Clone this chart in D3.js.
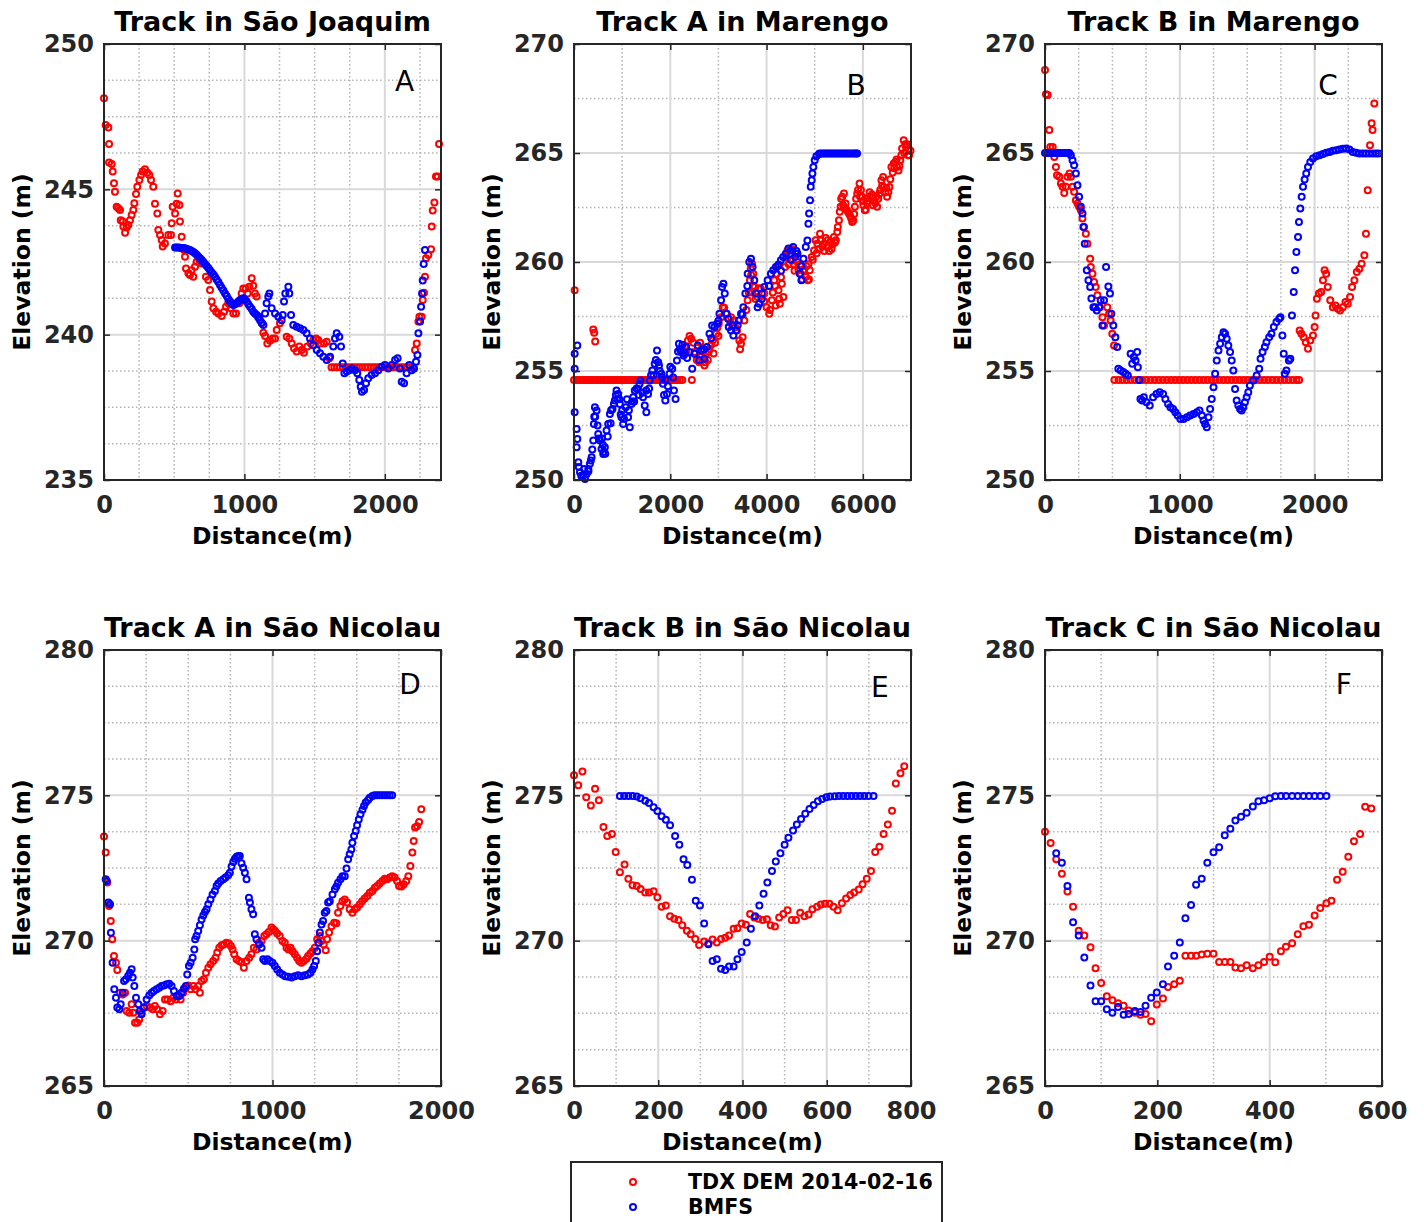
<!DOCTYPE html>
<html>
<head>
<meta charset="utf-8">
<script src="https://d3js.org/d3.v7.min.js"></script>
<style>
body { margin: 0; background: #fff; }
text { font-family: "DejaVu Sans", sans-serif; }
</style>
</head>
<body>
<div id="chart"></div>
<script>
// ---------- data ----------
var titles = ["Track in São Joaquim", "Track A in Marengo", "Track B in Marengo",
              "Track A in São Nicolau", "Track B in São Nicolau", "Track C in São Nicolau"];
var letters = ["A", "B", "C", "D", "E", "F"];
var legendLabels = ["TDX DEM 2014-02-16", "BMFS"];

// axis ticks
var aXTicks = [0, 1000, 2000], aYTicks = [235, 240, 245, 250];
var bXTicks = [0, 2000, 4000, 6000], bYTicks = [250, 255, 260, 265, 270];
var cXTicks = [0, 1000, 2000], cYTicks = [250, 255, 260, 265, 270];
var dXTicks = [0, 1000, 2000], dYTicks = [265, 270, 275, 280];
var eXTicks = [0, 200, 400, 600, 800], eYTicks = [265, 270, 275, 280];
var fXTicks = [0, 200, 400, 600], fYTicks = [265, 270, 275, 280];

// panel letter positions (data units)
var letterPos = [[2140, 248.4], [5860, 267.65], [2100, 267.65], [1816, 278.5], [726, 278.4], [532, 278.5]];

// A: Sao Joaquim
var aRed = [[0,248.13],[12,247.21],[31,247.13],[36,246.56],[36,245.92],[55,245.87],[62,245.61],[71,245.21],[78,244.92],[90,244.40],[102,244.35],[114,244.29],[119,243.94],[133,243.89],[138,243.72],[150,243.51],[161,243.69],[173,243.77],[185,243.94],[197,244.12],[209,244.29],[216,244.52],[228,244.84],[237,245.09],[252,245.32],[264,245.49],[275,245.61],[292,245.69],[309,245.57],[323,245.49],[335,245.32],[351,245.09],[363,244.50],[380,244.17],[387,243.60],[399,243.43],[411,243.26],[418,243.03],[434,243.14],[458,243.43],[477,243.43],[482,243.83],[489,244.40],[506,244.17],[518,244.50],[525,244.86],[537,244.46],[541,243.89],[553,243.37],[570,242.91],[577,242.68],[584,242.28],[601,242.11],[612,242.05],[624,242.22],[636,241.99],[648,242.34],[660,242.51],[679,242.57],[696,242.45],[726,241.99],[743,241.88],[755,241.54],[767,241.14],[779,240.91],[798,240.79],[814,240.73],[838,240.64],[855,240.79],[869,240.96],[885,241.08],[902,240.91],[921,240.73],[940,240.73],[964,241.08],[980,241.42],[992,241.59],[1009,241.59],[1023,241.42],[1035,241.65],[1052,241.94],[1063,241.68],[1075,241.42],[1087,241.31],[1106,240.62],[1123,240.39],[1135,240.07],[1147,239.95],[1163,239.70],[1182,239.79],[1201,239.87],[1218,239.87],[1230,240.16],[1253,240.39],[1301,239.93],[1320,239.87],[1337,239.70],[1353,239.53],[1372,239.42],[1391,239.59],[1408,239.47],[1424,239.38],[1448,239.59],[1472,239.70],[1491,239.82],[1510,239.87],[1526,239.82],[1543,239.70],[1567,239.70],[1586,239.76],[1605,239.19],
  [2215,239.47],[2227,239.70],[2239,240.45],[2246,240.62],[2262,240.62],[2270,241.19],[2279,241.44],[2286,241.99],[2293,242.63],[2310,242.74],[2329,242.94],[2334,243.72],[2341,244.27],[2353,244.55],[2364,245.44],[2376,245.44],[2386,246.56]];
var aRedFlatX = [1620,1640,1660,1680,1700,1720,1740,1760,1780,1800,1820,1840,1860,1880,1900,1920,1940,1960,1980,2000,2020,2040,2060,2080,2100,2120,2140,2160,2180,2200];
var aRedFlatY = 238.88;
var aBlue = [[506,243.00],[518,243.00],[530,243.00],[541,242.99],[553,242.98],[565,242.98],[577,242.97],[590,242.95],[600,242.93],[612,242.91],[624,242.88],[636,242.84],[648,242.80],[660,242.75],[672,242.69],[684,242.63],[696,242.57],[708,242.50],[719,242.43],[731,242.36],[743,242.29],[755,242.22],[767,242.14],[779,242.07],[790,241.99],[802,241.90],[814,241.81],[826,241.71],[838,241.61],[850,241.52],[862,241.42],[874,241.33],[885,241.23],[897,241.14],[909,241.08],[921,241.02],[933,241.05],[945,241.08],[957,241.14],[969,241.19],[981,241.22],[992,241.25],[1004,241.20],[1016,241.14],[1028,241.05],[1040,240.96],[1052,240.88],[1063,240.79],[1075,240.73],[1087,240.68],[1099,240.59],[1111,240.50],[1123,240.41],[1135,240.33],[1147,240.73],[1158,241.08],[1170,241.31],[1178,241.42],[1194,240.91],[1218,240.73],[1242,240.62],[1265,240.50],[1273,240.68],[1282,241.14],[1291,241.42],[1313,241.65],[1320,241.42],[1332,240.68],[1348,240.33],[1372,240.27],[1396,240.22],[1420,240.16],[1443,240.05],[1467,239.87],[1491,239.64],[1515,239.47],[1538,239.36],[1562,239.24],[1586,239.13],[1610,239.24],[1633,239.59],[1645,239.87],[1657,240.05],[1676,239.93],[1688,239.59],[1700,239.01],[1712,238.67],[1729,238.73],[1747,238.78],[1764,238.84],[1788,238.78],[1804,238.67],[1818,238.44],[1828,238.21],[1837,238.04],[1852,238.10],[1866,238.33],[1882,238.50],[1906,238.61],[1930,238.67],[1954,238.78],[1978,238.90],[2001,238.96],[2025,238.84],[2049,238.96],[2073,239.13],[2091,239.19],[2108,238.84],[2120,238.38],[2137,238.33],[2155,238.67],[2174,238.96],[2191,238.78],[2208,238.84],[2222,239.07],[2232,239.30],[2239,240.05],[2251,240.45],[2258,240.96],[2265,241.42],[2270,241.86],[2277,242.43],[2286,242.91]];

// B: Track A Marengo
var bRed = [[14,258.70],[400,256.90],[420,256.75],[440,256.35],[2448,254.59],
  [2366,256.40],[2434,256.48],[2503,255.87],[2572,256.09],[2641,255.64],[2710,255.25],[2745,255.79],[2814,256.02],[2883,256.40],[2952,256.71],[3007,257.17],[3055,257.47],[3090,257.93],[3159,257.63],[3214,257.40],[3262,257.47],[3331,257.32],[3386,256.86],[3434,256.40],[3469,256.25],[3503,256.55],[3538,257.32],[3607,258.24],[3655,259.16],[3697,259.92],[3724,259.46],[3752,258.85],[3814,258.39],[3883,258.77],[3952,258.55],[4000,257.93],[4055,257.63],[4110,258.24],[4159,259.16],[4207,259.46],[4248,258.70],[4276,258.09],[4317,259.00],[4386,259.77],[4434,260.53],[4483,260.38],[4538,260.08],[4607,260.38],[4662,259.62],[4710,259.46],[4759,259.62],[4814,259.31],[4855,259.16],[4897,259.62],[4938,260.23],[4986,260.53],[5055,260.84],[5124,260.99],[5193,260.84],[5262,260.69],[5331,260.92],[5400,261.15],[5469,261.38],[5503,261.91],[5538,262.53],[5572,262.99],[5607,263.14],[5641,262.68],[5710,262.22],[5779,261.84],[5834,262.53],[5883,263.14],[5931,263.60],[5986,262.99],[6041,262.37],[6090,262.68],[6159,262.99],[6228,262.83],[6297,262.53],[6345,263.14],[6386,263.75],[6434,263.44],[6503,262.99],[6552,263.44],[6593,264.36],[6641,264.52],[6710,264.36],[6779,264.67],[6814,265.21],[6848,265.59],[6897,265.28],[6938,264.90],
  [2300,256.10],[2480,256.30],[2600,255.40],[2680,255.90],[2780,255.50],[2850,256.20],[2900,255.80],[3000,256.60],[3120,257.90],[3250,257.20],[3350,257.00],[3450,256.00],[3580,257.80],[3680,259.40],[3720,258.90],[3850,258.80],[3950,258.20],[4070,257.80],[4180,258.90],[4230,259.80],[4350,258.40],[4420,260.20],[4560,259.90],[4700,259.90],[4780,259.60],[4870,259.90],[4960,260.10],[5020,261.00],[5090,260.60],[5160,260.70],[5230,261.10],[5300,260.50],[5370,260.80],[5440,261.00],[5520,262.30],[5590,262.60],[5660,262.40],[5740,262.10],[5800,261.90],[5860,262.90],[5960,263.30],[6010,262.60],[6060,262.40],[6120,262.80],[6190,263.10],[6260,262.70],[6320,262.90],[6400,263.50],[6470,263.20],[6530,263.20],[6620,264.10],[6680,264.60],[6740,264.20],[6860,265.00],[6920,265.40],[6960,264.90],[6990,265.10],
  [2330,255.90],[2400,256.60],[2550,255.50],[2620,256.30],[2730,255.40],[2800,255.90],[2930,256.30],[2980,257.00],[3630,258.60],[3670,259.70],[3700,258.60],[3770,258.30],[4130,258.60],[4190,258.00],[4260,258.30],[4300,259.30],[4460,259.90],[4520,260.60],[4580,259.60],[4640,260.00],[4740,259.20],[4830,259.80],[4880,259.20],[5040,260.40],[5110,261.30],[5200,260.50],[5270,261.00],[5350,260.60],[5420,260.90],[5480,261.60],[5550,262.90],[5620,262.50],[5690,262.30],[5760,262.00],[5820,262.20],[5900,263.30],[5940,263.00],[6000,262.80],[6070,262.90],[6140,263.20],[6210,262.60],[6280,263.00],[6360,263.30],[6420,263.90],[6490,263.40],[6570,263.80],[6650,264.30],[6700,264.70],[6760,264.40],[6800,264.90],[6880,265.40],[6950,265.20]];
var bRedFlatX = [0,50,100,150,200,250,300,350,400,450,500,550,600,650,700,750,800,850,900,950,1000,1050,1100,1150,1200,1250,1300,1350,1400,1450,1500,1550,1600,1650,1700,1750,1800,1850,1900,1950,2000,2050,2100,2150,2200,2250];
var bRedFlatY = 254.59;
var bBlue = [[14,255.10],[14,255.79],[69,256.17],[14,253.11],[55,252.34],[69,251.88],[55,251.50],[90,250.81],[124,250.35],[193,250.20],[228,250.05],[262,250.28],[297,250.51],[331,250.74],[366,251.04],[400,251.81],[414,252.57],[434,253.34],[469,253.19],[503,252.11],[538,251.81],[572,251.42],[607,251.19],[641,251.50],[676,252.27],[710,252.57],[745,253.03],[800,253.26],[848,253.65],[883,254.10],[917,253.95],[952,253.49],[986,252.88],[1021,252.57],[1076,253.34],[1124,252.88],[1159,252.42],[1193,253.49],[1228,253.80],[1262,254.10],[1331,254.18],[1379,254.56],[1434,253.80],[1469,253.42],[1503,253.11],[1538,253.95],[1572,254.56],[1628,255.02],[1676,255.33],[1724,255.94],[1766,255.25],[1814,254.87],[1848,254.41],[1897,253.65],[1931,253.95],[1986,254.87],[2041,255.10],[2076,254.10],[2110,253.72],[2138,255.48],[2179,256.25],[2228,255.87],[2276,255.71],[2331,256.10],[2400,255.87],[2455,255.10],[2503,255.79],[2572,256.17],[2641,255.94],[2710,255.56],[2759,256.10],[2814,256.71],[2869,257.09],[2917,257.02],[2972,257.17],[3021,257.63],[3055,258.24],[3076,258.85],[3103,259.00],[3131,258.55],[3172,257.63],[3214,257.02],[3262,256.86],[3310,256.63],[3366,256.86],[3421,257.32],[3469,257.63],[3517,257.93],[3559,258.55],[3607,259.46],[3641,260.00],[3676,260.15],[3710,259.77],[3745,259.16],[3779,258.55],[3814,257.93],[3848,258.09],[3903,258.55],[3952,258.85],[4021,259.16],[4090,259.46],[4138,259.62],[4193,259.77],[4248,259.89],[4297,260.08],[4345,260.23],[4400,260.38],[4455,260.62],[4503,260.53],[4552,260.69],[4593,260.23],[4641,260.38],[4690,259.46],[4724,259.16],[4766,260.15],[4814,260.69],[4848,260.99],[4869,261.76],[4883,262.22],[4903,262.83],[4917,263.45],[4938,263.75],[4952,264.06],[4972,264.36],[5000,264.67],[5034,264.85],[5090,264.95],
  [300,250.40],[350,250.90],[440,252.90],[580,251.90],[650,251.20],[760,252.60],[900,253.70],[1000,253.20],[1100,253.70],[1250,253.60],[1350,253.90],[1500,254.10],[1650,254.80],[1750,255.40],[1900,254.60],[2000,255.20],[2160,255.90],[2250,256.20],[2350,255.60],[2600,255.50],[2700,256.00],[2850,256.50],[3000,257.30],[3200,257.40],[3300,257.10],[3400,257.10],[3500,257.60],[3600,258.90],[3900,258.30],[4050,258.90],[4300,259.60],[4500,260.10],[4620,260.50],[4720,259.80],
  [100,250.60],[150,250.20],[210,250.50],[380,251.40],[420,252.90],[490,252.50],[520,251.90],[600,251.60],[620,251.30],[700,252.00],[770,253.20],[830,253.50],[870,253.90],[940,253.70],[970,253.00],[1040,252.80],[1140,253.20],[1210,253.60],[1300,254.20],[1360,254.40],[1420,254.00],[1560,254.20],[1600,254.80],[1700,255.50],[1780,255.00],[1830,254.70],[1870,253.90],[1950,254.30],[2060,254.70],[2200,256.00],[2300,255.80]];
var bBlueFlatX = [5100,5140,5180,5220,5260,5300,5340,5380,5420,5460,5500,5540,5580,5620,5660,5700,5740,5780,5820,5860,5880];
var bBlueFlatY = 264.98;

// C: Track B Marengo
var cRed = [[0,268.81],[7,267.70],[20,267.66],[32,266.05],[39,265.28],[57,265.28],[69,264.82],[81,264.36],[89,263.98],[106,263.91],[118,263.60],[130,263.45],[143,263.17],[155,263.45],[167,263.91],[182,264.06],[192,263.91],[204,263.45],[216,263.22],[229,262.83],[241,262.68],[253,262.53],[266,262.37],[278,261.99],[290,261.61],[303,261.30],[315,260.84],[335,260.15],[340,259.77],[352,259.46],[364,259.08],[376,258.85],[389,258.47],[408,257.93],[426,257.47],[438,257.09],[462,257.93],[475,257.63],[487,257.32],[499,256.71],[512,256.17],
  [1889,256.86],[1902,256.71],[1919,256.55],[1934,256.32],[1951,256.02],[1968,256.40],[1988,256.63],[2000,257.02],[2007,257.55],[2017,258.31],[2032,258.55],[2049,258.62],[2062,259.16],[2074,259.62],[2086,259.46],[2098,258.85],[2116,258.24],[2135,257.93],[2155,258.01],[2172,257.86],[2189,257.78],[2209,257.93],[2229,258.16],[2246,258.09],[2263,258.39],[2278,258.85],[2295,259.16],[2313,259.54],[2332,259.69],[2349,259.92],[2369,260.31],[2381,261.30],[2394,263.29],[2411,265.36],[2423,266.36],[2430,266.05],[2443,267.27]];
var cRedFlatX = [515,545,575,605,635,665,695,725,755,785,815,845,875,905,935,965,995,1025,1055,1085,1115,1145,1175,1205,1235,1265,1295,1325,1355,1385,1415,1445,1475,1505,1535,1565,1595,1625,1655,1685,1715,1745,1775,1805,1835,1865,1885];
var cRedFlatY = 254.59;
var cBlue = [[192,264.90],[204,264.67],[216,264.44],[229,264.06],[241,263.52],[253,262.99],[266,262.53],[278,262.22],[285,261.61],[295,260.84],[310,259.62],[322,259.16],[335,258.85],[344,258.32],[359,257.93],[371,257.93],[384,257.78],[401,257.93],[413,258.24],[426,257.09],[438,258.24],[453,259.77],[470,258.88],[482,258.55],[492,257.63],[507,257.09],[522,256.55],[536,256.10],[544,255.10],[561,255.02],[581,254.95],[598,254.87],[615,254.79],[635,255.79],[647,255.33],[659,255.64],[672,255.48],[684,255.87],[689,255.17],[699,254.59],[708,253.72],[721,253.65],[733,253.80],[753,253.57],[777,253.42],[802,253.80],[827,253.95],[851,254.03],[876,253.95],[893,253.72],[913,253.49],[930,253.34],[950,253.26],[967,253.11],[984,252.96],[1004,252.80],[1028,252.80],[1053,252.88],[1077,252.96],[1102,253.03],[1127,253.11],[1146,253.19],[1164,252.96],[1176,252.73],[1188,252.57],[1200,252.42],[1213,252.88],[1225,253.26],[1237,253.72],[1250,254.26],[1262,254.87],[1274,255.48],[1287,255.94],[1299,256.25],[1311,256.55],[1324,256.78],[1336,256.71],[1348,256.48],[1360,256.17],[1373,255.87],[1385,255.48],[1397,255.02],[1410,254.18],[1422,253.65],[1434,253.42],[1447,253.26],[1459,253.19],[1471,253.34],[1483,253.57],[1496,253.80],[1508,254.03],[1520,254.33],[1545,254.56],[1570,254.79],[1589,255.10],[1599,255.56],[1614,255.87],[1631,256.10],[1643,256.32],[1663,256.55],[1680,256.71],[1697,257.02],[1717,257.25],[1737,257.40],[1747,257.47],[1761,256.63],[1771,255.79],[1779,254.87],[1791,255.02],[1809,255.48],[1820,255.56],[1832,257.55],[1845,258.62],[1855,259.62],[1865,260.46],[1877,261.15],[1884,261.84],[1894,262.45],[1904,262.99],[1914,263.45],[1926,263.78],[1938,264.06],[1951,264.36],[1968,264.59],[1988,264.75],[2012,264.85],[2037,264.90],[2062,264.95],[2086,265.01],[2111,265.05],[2135,265.10],[2160,265.13],[2184,265.16],[2209,265.19],[2234,265.21],[2258,265.16],[2283,265.05],[2308,265.01],[2332,264.98],[2357,264.98],[2381,264.98],[2406,264.98],[2430,264.98],[2455,264.98],[2475,264.98]];
var cBlueFlatX = [0,15,30,45,60,75,90,105,120,135,150,165,180];
var cBlueFlatY = 265.0;

// D: Track A Sao Nicolau
var dRed = [[0,273.58],[10,273.03],[20,272.00],[30,271.19],[40,270.68],[49,270.05],[59,269.47],[71,269.24],[79,268.99],[95,268.21],[111,268.15],[125,268.21],[134,267.58],[150,267.52],[164,267.81],[174,267.52],[184,267.18],[198,267.18],[209,267.29],[223,267.52],[237,267.70],[253,267.75],[273,267.70],[289,267.64],[302,267.75],[316,267.64],[332,267.47],[348,267.58],[362,267.98],[377,267.98],[395,267.92],[411,268.04],[427,267.98],[441,268.10],[455,267.98],[470,268.21],[486,268.38],[500,268.46],[514,268.33],[530,268.44],[543,268.33],[559,268.44],[569,268.21],[579,268.61],[593,268.67],[605,268.90],[619,269.07],[632,269.19],[648,269.30],[662,269.41],[672,269.59],[684,269.76],[698,269.84],[711,269.87],[727,269.93],[741,269.90],[753,269.82],[763,269.70],[773,269.53],[787,269.36],[802,269.30],[816,269.26],[830,269.07],[846,269.30],[862,269.41],[875,269.53],[889,269.76],[905,269.70],[919,269.93],[935,269.99],[951,270.16],[964,270.22],[978,270.30],[994,270.45],[1004,270.39],[1014,270.34],[1028,270.25],[1043,270.16],[1059,269.99],[1073,269.93],[1083,269.76],[1095,269.70],[1107,269.76],[1119,269.64],[1132,269.53],[1146,269.41],[1158,269.30],[1172,269.24],[1186,269.30],[1202,269.38],[1211,269.47],[1225,269.56],[1237,269.64],[1251,269.76],[1265,270.05],[1281,270.16],[1291,269.99],[1304,269.87],[1316,269.67],[1324,270.05],[1336,270.28],[1350,270.50],[1366,270.62],[1379,270.60],[1389,270.96],[1403,271.19],[1415,271.36],[1429,271.42],[1443,271.31],[1458,271.08],[1474,270.96],[1488,271.08],[1502,271.14],[1518,271.25],[1532,271.36],[1547,271.45],[1563,271.54],[1577,271.65],[1593,271.71],[1607,271.82],[1621,271.88],[1636,271.97],[1652,272.05],[1666,272.13],[1680,272.11],[1696,272.17],[1711,272.22],[1725,272.17],[1739,272.05],[1751,271.88],[1765,271.86],[1779,271.94],[1794,272.05],[1806,272.22],[1818,272.57],[1830,273.03],[1838,273.43],[1846,273.89],[1858,273.94],[1870,274.08],[1883,274.52]];
var dBlue = [[10,272.11],[16,272.05],[26,271.31],[36,271.25],[41,270.27],[51,269.24],[61,268.33],[71,268.04],[79,267.70],[91,267.64],[99,267.81],[111,268.21],[119,268.61],[130,268.67],[144,268.79],[154,268.90],[164,269.02],[170,268.73],[180,268.44],[190,268.04],[204,267.81],[213,267.58],[223,267.47],[237,267.70],[253,267.98],[269,268.12],[283,268.21],[296,268.27],[312,268.33],[328,268.38],[342,268.44],[356,268.46],[372,268.50],[387,268.52],[401,268.44],[415,268.27],[431,268.10],[447,268.10],[460,268.21],[474,268.35],[486,268.44],[494,268.84],[504,269.13],[514,269.24],[526,269.41],[536,269.70],[541,270.05],[549,270.16],[559,270.33],[569,270.53],[579,270.73],[589,270.87],[599,270.99],[609,271.08],[619,271.25],[632,271.42],[644,271.59],[658,271.71],[668,271.88],[678,271.97],[692,272.05],[708,272.11],[721,272.17],[737,272.25],[747,272.34],[757,272.55],[767,272.71],[777,272.82],[787,272.89],[797,272.91],[806,272.91],[816,272.66],[826,272.51],[836,272.34],[846,272.11],[860,271.48],[866,271.31],[875,271.08],[885,270.91],[895,270.22],[905,270.05],[921,269.87],[935,269.76],[945,269.36],[955,269.30],[970,269.36],[984,269.30],[1000,269.24],[1014,269.13],[1028,269.01],[1043,268.90],[1059,268.84],[1075,268.78],[1093,268.76],[1113,268.73],[1132,268.78],[1152,268.81],[1172,268.78],[1192,268.81],[1211,268.84],[1225,268.90],[1237,269.01],[1247,269.13],[1257,269.30],[1265,269.64],[1273,269.93],[1281,270.28],[1291,270.56],[1300,270.68],[1310,270.96],[1320,271.02],[1330,271.31],[1340,271.36],[1356,271.59],[1370,271.77],[1379,271.86],[1389,271.99],[1403,272.11],[1415,272.22],[1429,272.22],[1439,272.48],[1449,272.80],[1458,272.97],[1468,273.14],[1474,273.37],[1484,273.60],[1494,273.77],[1502,273.97],[1512,274.17],[1522,274.35],[1534,274.50],[1543,274.63],[1553,274.75],[1567,274.84],[1577,274.92],[1593,274.98]];
var dBlueFlatX = [1605,1620,1635,1650,1665,1680,1695,1710];
var dBlueFlatY = 275.0;

// E: Track B Sao Nicolau
var eRed = [[0,275.69],[10,275.35],[20,275.82],[29,274.93],[40,274.65],[50,275.23],[59,274.83],[70,273.91],[79,273.60],[90,273.67],[99,273.05],[109,272.35],[120,272.62],[129,272.13],[139,271.91],[149,271.88],[158,271.78],[169,271.66],[178,271.66],[189,271.70],[198,271.49],[208,271.17],[218,271.21],[228,270.84],[238,270.75],[248,270.71],[257,270.53],[268,270.34],[277,270.22],[288,270.06],[297,269.85],[309,269.97],[319,269.91],[329,270.04],[339,269.94],[349,270.06],[359,270.10],[368,270.18],[379,270.41],[388,270.43],[398,270.59],[408,270.55],[418,270.92],[428,270.80],[438,270.75],[448,270.71],[458,270.74],[467,270.53],[477,270.49],[487,270.80],[497,270.92],[507,271.05],[517,270.71],[527,270.71],[537,270.96],[547,270.84],[557,270.90],[566,271.08],[577,271.17],[586,271.24],[596,271.27],[606,271.27],[616,271.17],[626,271.05],[636,271.29],[646,271.45],[656,271.57],[665,271.66],[676,271.76],[685,271.94],[695,272.13],[705,272.40],[715,273.05],[725,273.23],[735,273.67],[745,274.00],[755,274.47],[764,275.41],[775,275.76],[784,276.00]];
var eBlue = [[109,274.98],[119,274.98],[129,274.98],[139,274.98],[149,274.96],[158,274.90],[169,274.81],[178,274.74],[189,274.59],[198,274.46],[208,274.28],[218,274.16],[228,273.97],[240,273.60],[250,273.30],[260,272.80],[269,272.60],[280,272.10],[289,271.37],[299,271.21],[309,270.59],[319,269.88],[329,269.30],[339,269.36],[349,269.03],[359,268.99],[368,269.11],[379,269.11],[388,269.36],[398,269.61],[410,269.94],[420,270.41],[430,270.84],[440,271.21],[450,271.61],[459,272.00],[470,272.40],[479,272.72],[490,273.01],[500,273.30],[509,273.54],[520,273.79],[529,274.00],[539,274.19],[549,274.37],[559,274.53],[569,274.67],[579,274.80],[589,274.87],[599,274.93],[608,274.96],[619,274.97],[629,274.98],[639,274.98],[649,274.98],[659,274.98],[669,274.98],[679,274.98],[689,274.98],[699,274.98],[711,274.98]];

// F: Track C Sao Nicolau
var fRed = [[0,273.75],[10,273.36],[20,272.80],[30,272.30],[40,271.69],[50,271.17],[60,270.34],[70,270.18],[81,269.77],[90,269.05],[100,268.54],[110,268.09],[120,267.95],[130,267.85],[140,267.76],[149,267.60],[160,267.52],[170,267.45],[179,267.48],[189,267.23],[199,267.80],[210,268.01],[219,268.41],[230,268.50],[240,268.62],[250,269.48],[260,269.48],[269,269.48],[279,269.52],[289,269.55],[300,269.55],[310,269.27],[320,269.27],[330,269.27],[339,269.08],[349,269.05],[359,269.15],[370,269.05],[380,269.15],[390,269.27],[400,269.45],[410,269.26],[420,269.64],[429,269.79],[440,269.91],[450,270.22],[460,270.50],[470,270.55],[480,270.87],[490,271.12],[501,271.29],[510,271.37],[520,272.10],[530,272.37],[540,272.89],[550,273.42],[561,273.67],[570,274.61],[581,274.55]];
var fBlue = [[20,273.01],[30,272.68],[40,271.88],[50,270.63],[60,270.18],[70,269.42],[81,268.46],[90,267.92],[100,267.92],[110,267.64],[120,267.52],[130,267.72],[140,267.45],[149,267.48],[160,267.58],[170,267.55],[179,267.76],[189,268.04],[199,268.22],[210,268.50],[219,269.11],[230,269.48],[240,269.94],[250,270.77],[260,271.23],[269,271.92],[279,272.13],[289,272.68],[300,273.04],[310,273.21],[320,273.63],[330,273.85],[339,274.13],[349,274.26],[359,274.40],[370,274.62],[380,274.80],[390,274.83],[400,274.90],[410,274.97],[420,274.98],[429,274.98],[440,274.98],[450,274.98],[460,274.98],[470,274.98],[480,274.98],[490,274.98],[501,274.98]];

// ---------- layout ----------
var WIDTH = 1424, HEIGHT = 1222;
var W = 337, H = 436;
var LEFTS = [104, 574, 1045], TOPS = [44, 650];
var RED = "#ff0000", BLUE = "#0000ff", AXIS_COLOR = "#262626";
var MARKER_R = 3, MARKER_W = 2;

function withFlat(points, flatX, flatY) {
    return points.concat(flatX.map(function(v) { return [v, flatY]; }));
}

var panels = [
    { xDomain: [0, 2400], yDomain: [235, 250], xTicks: aXTicks, yTicks: aYTicks, xMinor: 250, yMinor: 1.25,
      red: withFlat(aRed, aRedFlatX, aRedFlatY), blue: aBlue },
    { xDomain: [0, 7000], yDomain: [250, 270], xTicks: bXTicks, yTicks: bYTicks, xMinor: 1000, yMinor: 2.5,
      red: withFlat(bRed, bRedFlatX, bRedFlatY), blue: withFlat(bBlue, bBlueFlatX, bBlueFlatY) },
    { xDomain: [0, 2500], yDomain: [250, 270], xTicks: cXTicks, yTicks: cYTicks, xMinor: 250, yMinor: 2.5,
      red: withFlat(cRed, cRedFlatX, cRedFlatY), blue: withFlat(cBlue, cBlueFlatX, cBlueFlatY) },
    { xDomain: [0, 2000], yDomain: [265, 280], xTicks: dXTicks, yTicks: dYTicks, xMinor: 250, yMinor: 1.25,
      red: dRed, blue: withFlat(dBlue, dBlueFlatX, dBlueFlatY) },
    { xDomain: [0, 800], yDomain: [265, 280], xTicks: eXTicks, yTicks: eYTicks, xMinor: 100, yMinor: 1.25,
      red: eRed, blue: eBlue },
    { xDomain: [0, 600], yDomain: [265, 280], xTicks: fXTicks, yTicks: fYTicks, xMinor: 100, yMinor: 1.25,
      red: fRed, blue: fBlue }
];

var svg = d3.select('#chart')
    .append('svg')
    .attr('width', WIDTH)
    .attr('height', HEIGHT)
    .style('background', '#fff');

function isMajor(v, ticks) {
    return ticks.some(function(t) { return Math.abs(t - v) < 1e-6; });
}

function styleAxis(sel) {
    sel.select('.domain').remove();
    sel.selectAll('.tick line').attr('stroke', AXIS_COLOR).attr('stroke-width', 1.5);
    sel.selectAll('.tick text')
        .attr('fill', AXIS_COLOR)
        .style('font-family', '"DejaVu Sans", sans-serif')
        .style('font-size', '24px')
        .style('font-weight', 'bold');
}

function drawPanel(p, i) {
    var left = LEFTS[i % 3], top = TOPS[Math.floor(i / 3)];
    var g = svg.append('g').attr('transform', 'translate(' + left + ',' + top + ')');

    var x = d3.scaleLinear().domain(p.xDomain).range([0, W]);
    var y = d3.scaleLinear().domain(p.yDomain).range([H, 0]);

    var xMinor = d3.range(p.xDomain[0] + p.xMinor, p.xDomain[1] - 1e-6, p.xMinor)
        .filter(function(v) { return !isMajor(v, p.xTicks); });
    var yMinor = d3.range(p.yDomain[0] + p.yMinor, p.yDomain[1] - 1e-6, p.yMinor)
        .filter(function(v) { return !isMajor(v, p.yTicks); });
    var xMajor = p.xTicks.filter(function(v) { return v > p.xDomain[0] && v < p.xDomain[1]; });
    var yMajor = p.yTicks.filter(function(v) { return v > p.yDomain[0] && v < p.yDomain[1]; });

    // minor grid (dotted)
    g.selectAll('.vminor').data(xMinor).enter().append('line')
        .attr('x1', function(d) { return x(d); }).attr('x2', function(d) { return x(d); })
        .attr('y1', 0).attr('y2', H)
        .attr('stroke', '#b3b3b3').attr('stroke-width', 1.5).attr('stroke-dasharray', '1.5,2.5');
    g.selectAll('.hminor').data(yMinor).enter().append('line')
        .attr('y1', function(d) { return y(d); }).attr('y2', function(d) { return y(d); })
        .attr('x1', 0).attr('x2', W)
        .attr('stroke', '#b3b3b3').attr('stroke-width', 1.5).attr('stroke-dasharray', '1.5,2.5');

    // major grid (solid, light)
    g.selectAll('.vmajor').data(xMajor).enter().append('line')
        .attr('x1', function(d) { return x(d); }).attr('x2', function(d) { return x(d); })
        .attr('y1', 0).attr('y2', H)
        .attr('stroke', '#d9d9d9').attr('stroke-width', 2);
    g.selectAll('.hmajor').data(yMajor).enter().append('line')
        .attr('y1', function(d) { return y(d); }).attr('y2', function(d) { return y(d); })
        .attr('x1', 0).attr('x2', W)
        .attr('stroke', '#d9d9d9').attr('stroke-width', 2);

    // TDX points first, BMFS on top
    g.selectAll('.red').data(p.red).enter().append('circle')
        .attr('cx', function(d) { return x(d[0]); })
        .attr('cy', function(d) { return y(d[1]); })
        .attr('r', MARKER_R)
        .attr('fill', 'none').attr('stroke', RED).attr('stroke-width', MARKER_W);
    g.selectAll('.blue').data(p.blue).enter().append('circle')
        .attr('cx', function(d) { return x(d[0]); })
        .attr('cy', function(d) { return y(d[1]); })
        .attr('r', MARKER_R)
        .attr('fill', 'none').attr('stroke', BLUE).attr('stroke-width', MARKER_W);

    // axes with inward ticks
    g.append('g').attr('transform', 'translate(0,' + H + ')')
        .call(d3.axisBottom(x).tickValues(p.xTicks).tickSizeInner(-6).tickSizeOuter(0).tickPadding(16).tickFormat(d3.format('d')))
        .call(styleAxis);
    g.append('g')
        .call(d3.axisTop(x).tickValues(p.xTicks).tickSizeInner(-6).tickSizeOuter(0).tickFormat(function() { return ''; }))
        .call(styleAxis);
    g.append('g')
        .call(d3.axisLeft(y).tickValues(p.yTicks).tickSizeInner(-6).tickSizeOuter(0).tickPadding(10).tickFormat(d3.format('d')))
        .call(styleAxis);
    g.append('g').attr('transform', 'translate(' + W + ',0)')
        .call(d3.axisRight(y).tickValues(p.yTicks).tickSizeInner(-6).tickSizeOuter(0).tickFormat(function() { return ''; }))
        .call(styleAxis);

    // box
    g.append('rect')
        .attr('width', W).attr('height', H)
        .attr('fill', 'none').attr('stroke', AXIS_COLOR).attr('stroke-width', 2);

    // panel letter
    g.append('text')
        .attr('x', x(letterPos[i][0])).attr('y', y(letterPos[i][1]))
        .attr('text-anchor', 'middle')
        .style('font-size', '28px')
        .attr('fill', '#000')
        .text(letters[i]);

    // title and labels
    g.append('text')
        .attr('x', W / 2).attr('y', -13)
        .attr('text-anchor', 'middle')
        .style('font-size', '27px').style('font-weight', 'bold')
        .attr('fill', '#000')
        .text(titles[i]);
    g.append('text')
        .attr('x', W / 2).attr('y', H + 64)
        .attr('text-anchor', 'middle')
        .style('font-size', '23.5px').style('font-weight', 'bold')
        .attr('fill', '#000')
        .text('Distance(m)');
    g.append('text')
        .attr('transform', 'translate(-74,' + (H / 2) + ') rotate(-90)')
        .attr('text-anchor', 'middle')
        .style('font-size', '23.5px').style('font-weight', 'bold')
        .attr('fill', '#000')
        .text('Elevation (m)');
}

panels.forEach(drawPanel);

// legend
var legend = svg.append('g').attr('transform', 'translate(571,1162)');
legend.append('rect')
    .attr('width', 371).attr('height', 80)
    .attr('fill', '#fff').attr('stroke', AXIS_COLOR).attr('stroke-width', 2);
legend.selectAll('.lm').data([RED, BLUE]).enter().append('circle')
    .attr('cx', 62)
    .attr('cy', function(d, i) { return 20 + i * 25; })
    .attr('r', MARKER_R)
    .attr('fill', 'none').attr('stroke', function(d) { return d; }).attr('stroke-width', MARKER_W);
legend.selectAll('.lt').data(legendLabels).enter().append('text')
    .attr('x', 117)
    .attr('y', function(d, i) { return 27 + i * 25; })
    .style('font-size', '20.6px').style('font-weight', 'bold')
    .attr('fill', '#000')
    .text(function(d) { return d; });
</script>
</body>
</html>
